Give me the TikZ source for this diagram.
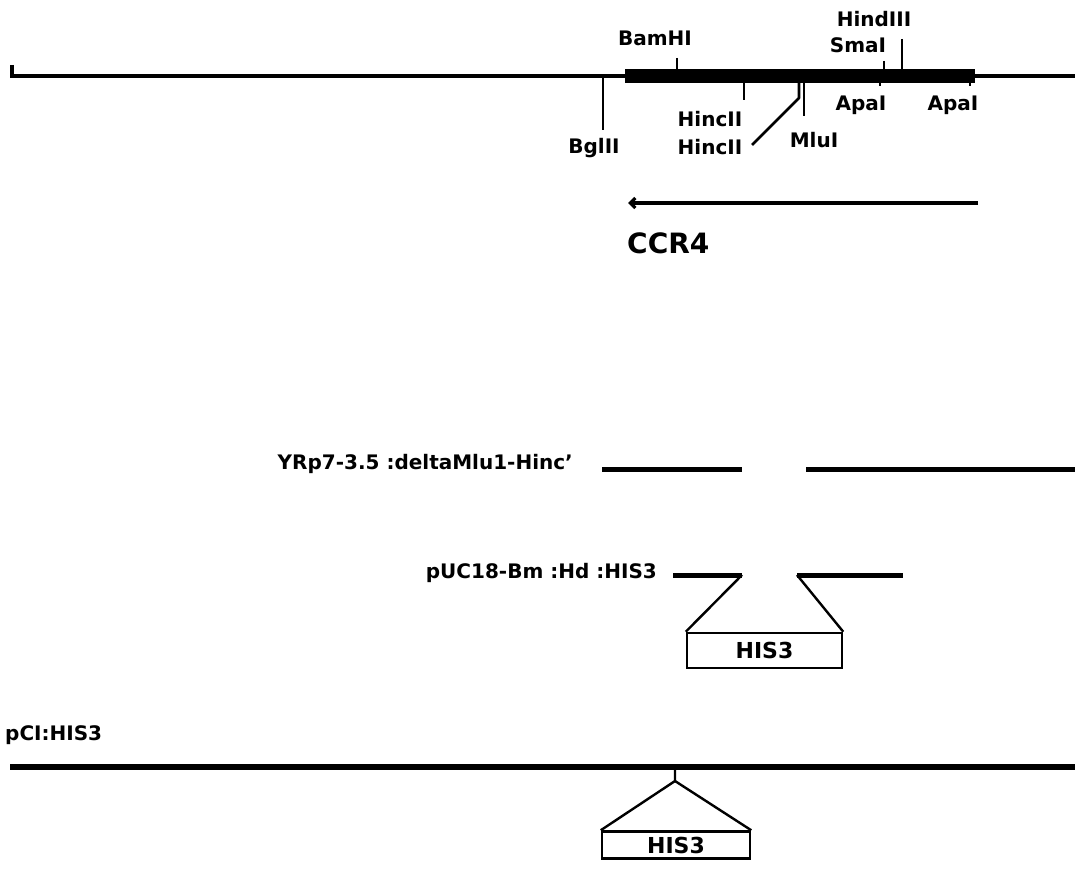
\documentclass[tikz,border=0pt]{standalone}
\usepackage{fontspec}
\setmainfont{DejaVu Sans}
\usetikzlibrary{arrows.meta}
\tikzset{
  lab/.style={font=\fontsize{20}{22}\selectfont\bfseries, inner sep=0pt},
  biglab/.style={font=\fontsize{28}{31}\selectfont\bfseries, inner sep=0pt},
  hisbox/.style={draw, line width=2.5pt, font=\fontsize{22}{24}\selectfont\bfseries, inner sep=0pt},
  dnaline/.style={line width=3.5pt},
  genebar/.style={line width=14pt},
  fragline/.style={line width=5pt},
  tickline/.style={line width=2.6pt},
  insline/.style={line width=2.4pt, line join=round},
}
\begin{document}
\begin{tikzpicture}[x=1pt,y=-1pt]
\useasboundingbox (0,0) rectangle (1075,869);

% ---------- top map ----------
\coordinate (L0) at (12,76);
\coordinate (Lt) at (12,65);
\coordinate (R0) at (1075,76);
\coordinate (B0) at (625,76.5);
\coordinate (B1) at (975,76.5);
\draw[dnaline] (Lt) -- (L0) -- (R0);
\draw[genebar] (B0) -- (B1);

\node[lab] (bam) at (655,38) {BamHI};
\node[lab] (hind) at (874,19) {HindIII};
\node[lab] (sma) at (858,45) {SmaI};
\node[lab] (apa1) at (861,105) {ApaI};
\node[lab] (apa2) at (953,105) {ApaI};
\node[lab] (bgl) at (594,148) {BglII};
\node[lab] (hinc1) at (710,119) {HincII};
\node[lab] (hinc2) at (710,147) {HincII};
\node[lab] (mlu) at (814,140) {MluI};

\coordinate (bamA) at (677,58);   \coordinate (bamB) at (677,70);
\coordinate (smaA) at (884,61);   \coordinate (smaB) at (884,70);
\coordinate (hindA) at (902,39);  \coordinate (hindB) at (902,70);
\coordinate (bglA) at (603,77);   \coordinate (bglB) at (603,130);
\coordinate (hcA) at (744,82);    \coordinate (hcB) at (744,100);
\coordinate (hdA) at (799,82);    \coordinate (hdB) at (799,98);
\coordinate (hdC) at (752,145);
\coordinate (mluA) at (804,82);   \coordinate (mluB) at (804,116);
\coordinate (apaA) at (880,82);   \coordinate (apaB) at (880,86);
\coordinate (apbA) at (970,82);   \coordinate (apbB) at (970,86);

\draw[tickline] (bamA) -- (bamB);
\draw[tickline] (smaA) -- (smaB);
\draw[tickline] (hindA) -- (hindB);
\draw[tickline] (bglA) -- (bglB);
\draw[tickline] (hcA) -- (hcB);
\draw[tickline, line join=round] (hdA) -- (hdB) -- (hdC);
\draw[tickline] (mluA) -- (mluB);
\draw[tickline] (apaA) -- (apaB);
\draw[tickline] (apbA) -- (apbB);

% CCR4 arrow
\coordinate (arA) at (978,203);
\coordinate (arB) at (628,203);
\draw[line width=3.2pt, -{Straight Barb[length=5pt,width=10pt]}] (arA) -- (arB);
\node[biglab, anchor=west] (ccr) at (627,243) {CCR4};

% ---------- YRp7 ----------
\node[lab, anchor=east] (yrp) at (573,464) {YRp7-3.5 :deltaMlu1-Hinc'};
\coordinate (y1a) at (602,469); \coordinate (y1b) at (742,469);
\coordinate (y2a) at (806,469); \coordinate (y2b) at (1075,469);
\draw[fragline] (y1a) -- (y1b);
\draw[fragline] (y2a) -- (y2b);

% ---------- pUC18 ----------
\node[lab, anchor=east] (puc) at (657,573) {pUC18-Bm :Hd :HIS3};
\coordinate (p1a) at (673,575); \coordinate (p1b) at (742,575);
\coordinate (p2a) at (797,575); \coordinate (p2b) at (903,575);
\draw[fragline] (p1a) -- (p1b);
\draw[fragline] (p2a) -- (p2b);
\node[hisbox, minimum width=155pt, minimum height=35pt] (his1) at (764.5,650.5) {HIS3};
\draw[insline] (p1b) -- (his1.north west);
\draw[insline] (p2a) -- (his1.north east);

% ---------- pCI ----------
\node[lab, anchor=west] (pci) at (5,735) {pCI:HIS3};
\coordinate (c0) at (10,767); \coordinate (c1) at (1075,767);
\draw[line width=6pt] (c0) -- (c1);
\coordinate (st0) at (675,769); \coordinate (st1) at (675,781);
\node[hisbox, minimum width=148pt, minimum height=27pt] (his2) at (676,845) {HIS3};
\draw[insline] (st0) -- (st1) -- (his2.north west);
\draw[insline] (st1) -- (his2.north east);
\end{tikzpicture}
\end{document}
